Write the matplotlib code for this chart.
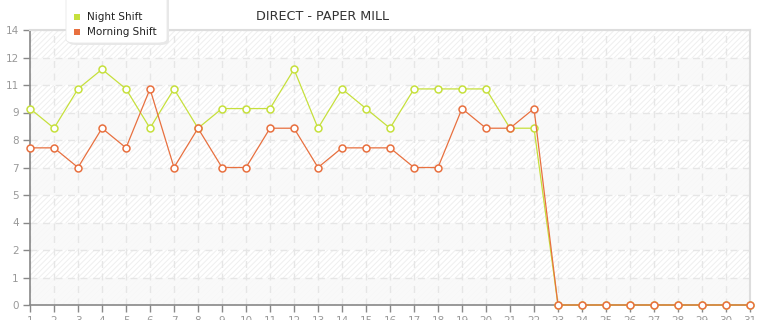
import matplotlib.pyplot as plt
from matplotlib.patches import Rectangle, FancyBboxPatch

plt.rcParams['hatch.linewidth'] = 0.7

days = list(range(1, 32))
night_shift = [10, 9, 11, 12, 11, 9, 11, 9, 10, 10, 10, 12, 9, 11, 10, 9,
               11, 11, 11, 11, 9, 9, 0, 0, 0, 0, 0, 0, 0, 0, 0]
morning_shift = [8, 8, 7, 9, 8, 11, 7, 9, 7, 7, 9, 9, 7, 8, 8, 8,
                 7, 7, 10, 9, 9, 10, 0, 0, 0, 0, 0, 0, 0, 0, 0]
y_ticks = [0, 1.4, 2.8, 4.2, 5.6, 7, 8.4, 9.8, 11.2, 12.6, 14]

night_color = '#c6e03c'
morning_color = '#e8703f'

fig = plt.figure(figsize=(7.65, 3.2), dpi=100)
ax = fig.add_axes([30 / 765, 1 - 305 / 320, 720 / 765, 275 / 320])
ax.set_xlim(1, 31)
ax.set_ylim(0, 14)

# hatched background with alternating plain bands
ax.add_patch(Rectangle((0, 0), 1, 1, transform=ax.transAxes, facecolor='white',
                       edgecolor='#efefef', hatch='//////', linewidth=0, zorder=0))
for i in range(len(y_ticks) - 1):
    if i % 2 == 0:
        ax.axhspan(y_ticks[i], y_ticks[i + 1], facecolor='#f9f9f9', edgecolor='none',
                   alpha=0.85, zorder=0.5)

ax.set_xticks(days)
ax.set_yticks(y_ticks)
ax.set_yticklabels([str(int(v)) for v in y_ticks])
ax.grid(True, color='#e6e6e6', linestyle=(0, (5, 4)), linewidth=1.0, zorder=1)
ax.set_axisbelow(True)

for s in ['top', 'right']:
    ax.spines[s].set_color('#dddddd')
    ax.spines[s].set_linewidth(1.5)
for s in ['left', 'bottom']:
    ax.spines[s].set_color('#888888')
    ax.spines[s].set_linewidth(1.2)
ax.tick_params(axis='both', colors='#888888', labelcolor='#999999', labelsize=7.5,
               length=5, width=1, pad=3)

ax.plot(days, night_shift, color=night_color, linewidth=0.9, marker='o', markersize=5,
        markerfacecolor='white', markeredgecolor=night_color, markeredgewidth=1.1,
        zorder=3, clip_on=False)
ax.plot(days, morning_shift, color=morning_color, linewidth=0.9, marker='o', markersize=5,
        markerfacecolor='white', markeredgecolor=morning_color, markeredgewidth=1.1,
        zorder=4, clip_on=False)

fig.text(322 / 765, 1 - 17 / 320, 'DIRECT - PAPER MILL', ha='center', va='center',
         fontsize=9.2, color='#333333')

# legend box with a soft shadow
shadow = FancyBboxPatch((68 / 765, 1 - 45 / 320), 101 / 765, 60 / 320,
                        boxstyle='round,pad=0,rounding_size=0.012', transform=fig.transFigure,
                        facecolor='#e8e8e8', edgecolor='none', zorder=9)
fig.patches.append(shadow)
box = FancyBboxPatch((66 / 765, 1 - 43 / 320), 101 / 765, 60 / 320,
                     boxstyle='round,pad=0,rounding_size=0.012', transform=fig.transFigure,
                     facecolor='white', edgecolor='#e8e8e8', linewidth=0.6, zorder=10)
fig.patches.append(box)
for label, color, ypix in [('Night Shift', night_color, 17), ('Morning Shift', morning_color, 32)]:
    fig.patches.append(Rectangle((74 / 765, 1 - (ypix + 3) / 320), 6 / 765, 6 / 320,
                                 transform=fig.transFigure, facecolor=color,
                                 edgecolor='none', zorder=11))
    fig.text(87 / 765, 1 - ypix / 320, label, ha='left', va='center', fontsize=7.5,
             color='#222222', zorder=12)

fig.savefig('out.png', dpi=100)
